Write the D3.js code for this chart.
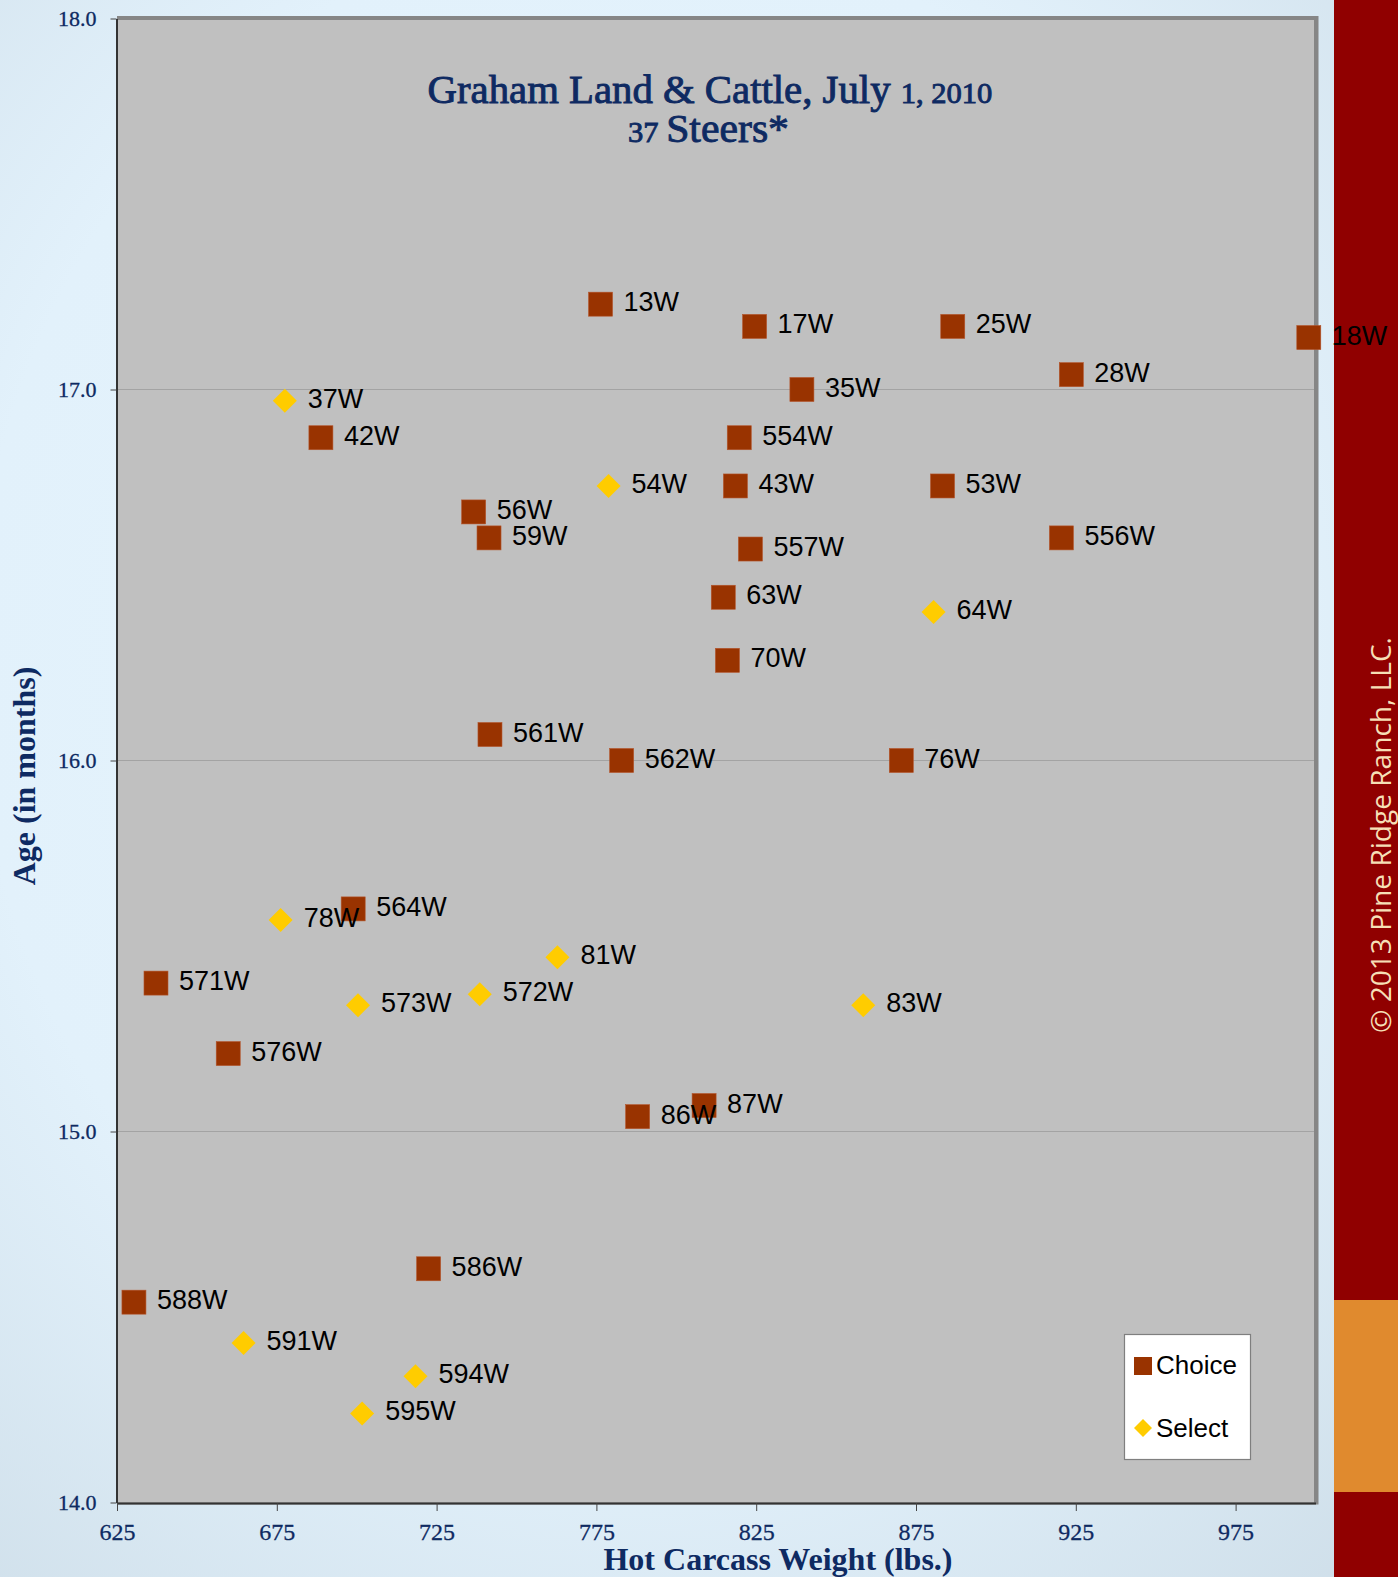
<!DOCTYPE html>
<html>
<head>
<meta charset="utf-8">
<script src="https://cdn.jsdelivr.net/npm/d3@7"></script>
<style>
  html, body { margin: 0; padding: 0; background: #e5f4fd; }
  svg { display: block; }
</style>
</head>
<body>
<svg id="chart" width="1398" height="1577"></svg>
<script>
// ---------------- data ----------------
const choiceIds    = ["13W","17W","25W","18W","28W","35W","42W","554W","43W","53W","56W","59W","557W","556W","63W","70W","561W","562W","76W","564W","571W","576W","87W","86W","586W","588W"];
const choiceWeight = [776.3,824.5,886.5,997.9,923.6,839.3,688.8,819.7,818.5,883.3,736.6,741.4,823.2,920.5,814.7,816.0,741.7,782.9,870.4,698.9,637.2,659.8,808.7,787.9,722.5,630.3];
const choiceAge    = [17.23,17.17,17.17,17.14,17.04,17.00,16.87,16.87,16.74,16.74,16.67,16.60,16.57,16.60,16.44,16.27,16.07,16.00,16.00,15.60,15.40,15.21,15.07,15.04,14.63,14.54];

const selectIds    = ["37W","54W","64W","78W","81W","572W","573W","83W","591W","594W","595W"];
const selectWeight = [677.5,778.8,880.5,676.2,762.8,738.5,700.4,858.5,664.6,718.4,701.7];
const selectAge    = [16.97,16.74,16.40,15.57,15.47,15.37,15.34,15.34,14.43,14.34,14.24];

const xTicks = [625,675,725,775,825,875,925,975];
const yTicks = [14.0,15.0,16.0,17.0,18.0];
const xDomain = [625,1000];
const yDomain = [14,18];

const titleLine1 = "Graham Land & Cattle, July ";
const titleLine1b = "1, 2010";
const titleLine2a = "37 ";
const titleLine2b = "Steers*";
const xTitle = "Hot Carcass Weight (lbs.)";
const yTitle = "Age (in months)";
const legendNames = ["Choice","Select"];
const copyright = "\u00A9 2013  Pine Ridge Ranch, LLC.";

// ---------------- layout ----------------
const W = 1398, H = 1577;
const plot = {left:117, right:1315.5, top:18.5, bottom:1502.5};
const navy = "#0e2a62";
const choiceColor = "#993300";
const selectColor = "#ffcc00";

const svg = d3.select("#chart");
const defs = svg.append("defs");
const rg = defs.append("radialGradient").attr("id","bg").attr("cx","0.45").attr("cy","0.42").attr("r","0.85");
rg.append("stop").attr("offset","0").attr("stop-color","#e6f5fe");
rg.append("stop").attr("offset","0.55").attr("stop-color","#e2f1fb");
rg.append("stop").attr("offset","1").attr("stop-color","#cbdbe6");

svg.append("rect").attr("width",W).attr("height",H).attr("fill","url(#bg)");

// right side bars
svg.append("rect").attr("x",1334).attr("y",0).attr("width",W-1334).attr("height",H).attr("fill","#900000");
svg.append("rect").attr("x",1334).attr("y",1300).attr("width",W-1334).attr("height",192).attr("fill","#e08a2e");

// copyright
svg.append("text")
  .attr("transform","translate(1391,835) rotate(-90)")
  .attr("text-anchor","middle")
  .attr("font-family","'Open Sans', sans-serif")
  .attr("font-size",28)
  .attr("fill","#f6dfb6")
  .attr("textLength",396)
  .attr("lengthAdjust","spacingAndGlyphs")
  .text(copyright);

const x = d3.scaleLinear().domain(xDomain).range([plot.left, plot.right]);
const y = d3.scaleLinear().domain(yDomain).range([plot.bottom, plot.top]);

// plot area shadow/border
svg.append("rect").attr("x",plot.left).attr("y",plot.top-2.5)
  .attr("width",plot.right-plot.left+3).attr("height",plot.bottom-plot.top+4.5)
  .attr("fill","#868686");
svg.append("rect").attr("x",plot.left).attr("y",plot.top+1.5)
  .attr("width",plot.right-plot.left-1.5).attr("height",plot.bottom-plot.top-1.5)
  .attr("fill","#c0c0c0");

// gridlines
svg.append("g").selectAll("line").data(yTicks.filter(d => d > yDomain[0] && d < yDomain[1])).join("line")
  .attr("x1",plot.left).attr("x2",plot.right-1.5)
  .attr("y1",d=>y(d)).attr("y2",d=>y(d))
  .attr("stroke","#a3a3a3").attr("stroke-width",1.2);

// axes
const yAxis = d3.axisLeft(y).tickValues(yTicks).tickFormat(d3.format(".1f")).tickSize(6).tickSizeOuter(0).tickPadding(14);
const gy = svg.append("g").attr("transform",`translate(${plot.left-0.5},0)`).call(yAxis);
gy.select(".domain").attr("stroke","#333").attr("stroke-width",2);
gy.selectAll(".tick line").attr("stroke","#444");
gy.selectAll(".tick text").attr("fill",navy).attr("font-family","'Liberation Serif', 'Times New Roman', serif")
  .attr("font-size",22).attr("dy","0.3em").attr("stroke",navy).attr("stroke-width",0.3);

const xAxis = d3.axisBottom(x).tickValues(xTicks).tickFormat(d3.format("d")).tickSize(8).tickSizeOuter(0).tickPadding(12);
const gx = svg.append("g").attr("transform",`translate(0,${plot.bottom+0.5})`).call(xAxis);
gx.select(".domain").attr("stroke","#333").attr("stroke-width",2);
gx.selectAll(".tick line").attr("stroke","#444");
gx.selectAll(".tick text").attr("fill",navy).attr("font-family","'Liberation Serif', 'Times New Roman', serif")
  .attr("font-size",24).attr("stroke",navy).attr("stroke-width",0.3);

// axis titles
svg.append("text").attr("x",778).attr("y",1570).attr("text-anchor","middle")
  .attr("font-family","'Liberation Serif', 'Times New Roman', serif").attr("font-weight","bold")
  .attr("font-size",32).attr("fill",navy).text(xTitle);
svg.append("text").attr("transform","translate(35,776) rotate(-90)").attr("text-anchor","middle")
  .attr("font-family","'Liberation Serif', 'Times New Roman', serif").attr("font-weight","bold")
  .attr("font-size",32).attr("fill",navy).text(yTitle);

// title
function fitTitle(sel, cx, target) {
  const w = sel.node().getComputedTextLength();
  const s = target / w;
  sel.attr("transform", `translate(${cx},0) scale(${s},1) translate(${-cx},0)`);
}
const t1 = svg.append("text").attr("x",710).attr("y",103).attr("text-anchor","middle")
  .attr("font-family","'Liberation Serif', 'Times New Roman', serif").attr("fill",navy).attr("font-size",40)
  .attr("stroke",navy).attr("stroke-width",0.9);
t1.append("tspan").text(titleLine1);
t1.append("tspan").attr("font-size",30).text(titleLine1b);
fitTitle(t1, 710, 565);
const t2 = svg.append("text").attr("x",708.5).attr("y",142).attr("text-anchor","middle")
  .attr("font-family","'Liberation Serif', 'Times New Roman', serif").attr("fill",navy).attr("font-size",41)
  .attr("stroke",navy).attr("stroke-width",0.9);
t2.append("tspan").attr("font-size",30).text(titleLine2a);
t2.append("tspan").text(titleLine2b);
fitTitle(t2, 708.5, 161);

// data
const choice = choiceIds.map((id,i)=>({id, w:choiceWeight[i], a:choiceAge[i], type:"c"}));
const select = selectIds.map((id,i)=>({id, w:selectWeight[i], a:selectAge[i], type:"s"}));

const sq = 24, dm = 12;
svg.append("g").selectAll("rect").data(choice).join("rect")
  .attr("x",d=>x(d.w)-sq/2).attr("y",d=>y(d.a)-sq/2).attr("width",sq).attr("height",sq)
  .attr("fill",choiceColor).attr("stroke","#b4542a").attr("stroke-width",0.6);
svg.append("g").selectAll("path").data(select).join("path")
  .attr("d",d=>{const cx=x(d.w), cy=y(d.a); return `M${cx},${cy-dm}L${cx+dm},${cy}L${cx},${cy+dm}L${cx-dm},${cy}Z`;})
  .attr("fill",selectColor);

// labels
svg.append("g").selectAll("text").data(choice.concat(select)).join("text")
  .attr("x",d=>x(d.w)+23).attr("y",d=>y(d.a)+7)
  .attr("font-family","'Liberation Sans', Arial, sans-serif").attr("font-size",27).attr("fill","#000")
  .text(d=>d.id);

// legend
const lg = svg.append("g");
lg.append("rect").attr("x",1124.5).attr("y",1334.5).attr("width",126).attr("height",125)
  .attr("fill","#fff").attr("stroke","#7f7f7f").attr("stroke-width",1.2);
lg.append("rect").attr("x",1134).attr("y",1357).attr("width",18).attr("height",18).attr("fill",choiceColor);
lg.append("path").attr("d","M1143,1419L1152,1428L1143,1437L1134,1428Z").attr("fill",selectColor);
lg.selectAll("text.leg").data(legendNames).join("text").attr("class","leg")
  .attr("x",1156).attr("y",(d,i)=> i===0 ? 1374 : 1437)
  .attr("font-family","'Liberation Sans', Arial, sans-serif").attr("font-size",26).attr("fill","#000")
  .text(d=>d);
</script>
</body>
</html>
